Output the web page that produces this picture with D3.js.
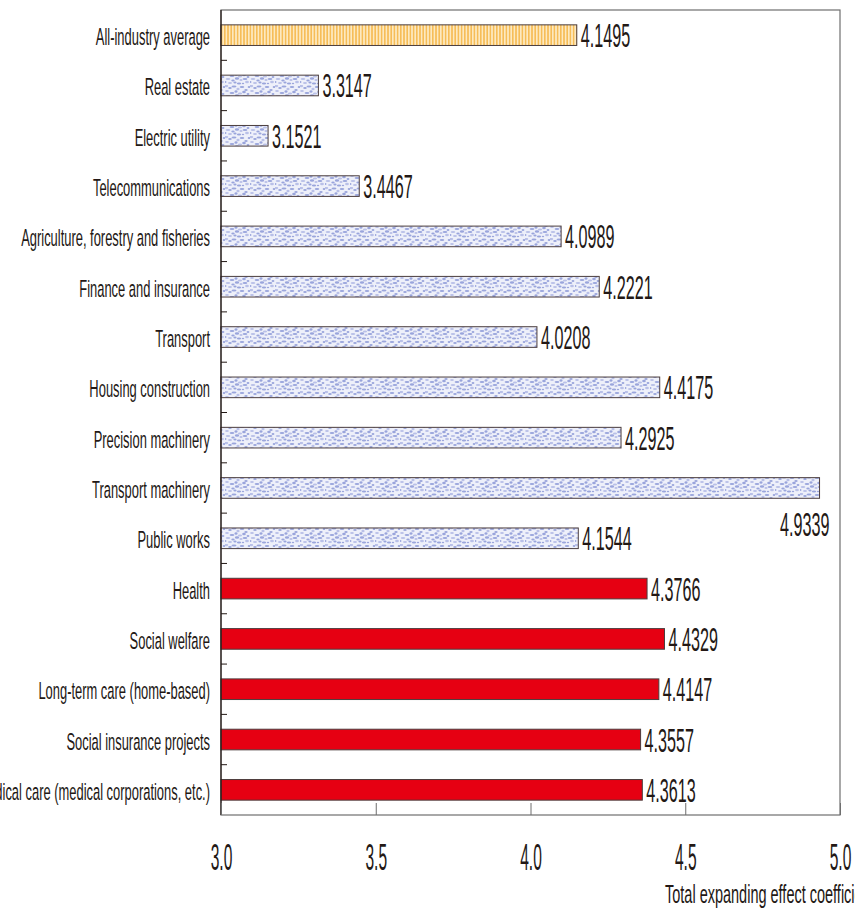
<!DOCTYPE html>
<html>
<head>
<meta charset="utf-8">
<script src="https://cdn.jsdelivr.net/npm/d3@7"></script>
<style>
  body{margin:0;background:#fff;}
  text{font-family:"Liberation Sans",Arial,sans-serif;fill:#231815;}
</style>
</head>
<body>
<div id="container"></div>
<script>
let w=855;
let h=911;

// data, top to bottom
let categories = [
  "All-industry average",
  "Real estate",
  "Electric utility",
  "Telecommunications",
  "Agriculture, forestry and fisheries",
  "Finance and insurance",
  "Transport",
  "Housing construction",
  "Precision machinery",
  "Transport machinery",
  "Public works",
  "Health",
  "Social welfare",
  "Long-term care (home-based)",
  "Social insurance projects",
  "Medical care (medical corporations, etc.)"
];
let values = [4.1495,3.3147,3.1521,3.4467,4.0989,4.2221,4.0208,4.4175,4.2925,4.9339,4.1544,4.3766,4.4329,4.4147,4.3557,4.3613];
let groups = ["avg","other","other","other","other","other","other","other","other","other","other","social","social","social","social","social"];
let xTicks = [3.0,3.5,4.0,4.5,5.0];
let xTitle = "Total expanding effect coefficient";

let plotLeft=221, plotRight=840, plotTop=10, plotBottom=815;

let viz = d3.select("#container")
  .append("svg")
    .attr("width",w)
    .attr("height",h)
    .style("display","block")
;

// patterns
let defs = viz.append("defs");

let stripes = defs.append("pattern")
  .attr("id","stripes")
  .attr("patternUnits","userSpaceOnUse")
  .attr("width",3.2).attr("height",10);
stripes.append("rect").attr("width",3.2).attr("height",10).attr("fill","#fde9c0");
stripes.append("rect").attr("width",1.6).attr("height",10).attr("fill","#f6bd58");

// speckle tile, fixed blob positions
let specks = [[1,1,2.2,1.2],[5,3,1.8,1],[9,1.5,2.5,1.1],[13,4,1.6,1.3],[17,2,2.3,1],[21,5,1.7,1.1],
              [2,6,1.9,1.1],[7,8,2.4,1],[11,6.5,1.5,1.2],[15,8.5,2.1,1],[19,7,1.8,1.2],[23,9,1.4,1],
              [3,11,2.3,1.1],[8,12.5,1.7,1],[12,10.5,2.2,1.2],[16,12,1.6,1],[20,11,2.4,1.1],[0,14,1.5,1],
              [5,15,2,1],[10,14.5,1.6,1.1],[14,15.5,2.2,1],[22,14,1.9,1.2],[18,15.5,1.2,0.8],[24,2,1.3,0.9]];
let speckle = defs.append("pattern")
  .attr("id","speckle")
  .attr("patternUnits","userSpaceOnUse")
  .attr("width",25).attr("height",17);
speckle.append("rect").attr("width",25).attr("height",17).attr("fill","#eef0fa");
speckle.selectAll("ellipse").data(specks).enter()
  .append("ellipse")
    .attr("cx",d=>d[0]).attr("cy",d=>d[1]).attr("rx",d=>d[2]).attr("ry",d=>d[3])
    .attr("fill",(d,i)=> i%3==0 ? "#b9c0e8" : "#9aa5dc")
;

function barFill(g){
  if(g=="avg"){
    return "url(#stripes)";
  }else if(g=="other"){
    return "url(#speckle)";
  }else{
    return "#e60012";
  }
}

let x = d3.scaleLinear().domain([3,5]).range([plotLeft,plotRight]);
let y = d3.scaleBand().domain(categories).range([plotTop,plotBottom]).paddingInner(0.59).paddingOuter(0.295);

let rows = categories.map((c,i)=>({cat:c,value:values[i],group:groups[i]}));

// frame
viz.append("rect")
  .attr("x",plotLeft).attr("y",plotTop)
  .attr("width",plotRight-plotLeft).attr("height",plotBottom-plotTop)
  .attr("fill","none")
  .attr("stroke","#6e6e6e")
  .attr("stroke-width",1.2)
;

// bars
viz.selectAll(".bar").data(rows).enter()
  .append("rect")
    .attr("class","bar")
    .attr("x",x(3))
    .attr("y",d=>y(d.cat))
    .attr("width",d=>x(d.value)-x(3))
    .attr("height",y.bandwidth())
    .attr("fill",d=>barFill(d.group))
    .attr("stroke","#4b3d3d")
    .attr("stroke-width",1)
;

// y ticks between the bands
let gap = y.step()-y.bandwidth();
viz.selectAll(".ytick").data(categories.slice(1)).enter()
  .append("line")
    .attr("x1",plotLeft).attr("x2",plotLeft+6)
    .attr("y1",d=>y(d)-gap/2).attr("y2",d=>y(d)-gap/2)
    .attr("stroke","#231815")
;

// left axis line
viz.append("line")
  .attr("x1",plotLeft).attr("x2",plotLeft)
  .attr("y1",plotTop).attr("y2",plotBottom)
  .attr("stroke","#231815").attr("stroke-width",1.2)
;

// category labels (squeezed text)
viz.selectAll(".cat").data(rows).enter()
  .append("text")
    .attr("class","cat")
    .attr("transform",d=>"translate(210,"+(y(d.cat)+y.bandwidth()/2+10)+") scale(0.55,1)")
    .attr("text-anchor","end")
    .style("font-size","23.5px")
    .text(d=>d.cat)
;

// value labels
viz.selectAll(".val").data(rows).enter()
  .append("text")
    .attr("class","val")
    .attr("transform",function(d){
      if(d.value>4.8){
        return "translate("+(x(d.value)+10)+","+(y(d.cat)+y.bandwidth()+38)+") scale(0.49,1)";
      }
      return "translate("+(x(d.value)+4)+","+(y(d.cat)+y.bandwidth()/2+12)+") scale(0.49,1)";
    })
    .attr("text-anchor",d=> d.value>4.8 ? "end" : "start")
    .style("font-size","33px")
    .text(d=>d.value.toFixed(4))
;

// x axis
let xAxis = d3.axisBottom(x).tickValues(xTicks).tickSizeInner(-12).tickSizeOuter(0).tickFormat(d3.format(".1f"));
let xg = viz.append("g")
  .attr("transform","translate(0,"+plotBottom+")")
  .call(xAxis)
;
xg.select(".domain").remove();
xg.selectAll(".tick line").attr("stroke","#6e6e6e");
xg.selectAll(".tick text")
  .attr("y",null).attr("dy",null)
  .attr("transform","translate(0,55) scale(0.42,1)")
  .style("font-size","37px")
  .style("font-family","\"Liberation Sans\",Arial,sans-serif")
  .attr("fill","#231815")
;

viz.append("text")
  .attr("transform","translate(665,903) scale(0.58,1)")
  .style("font-size","25px")
  .text(xTitle)
;
</script>
</body>
</html>
